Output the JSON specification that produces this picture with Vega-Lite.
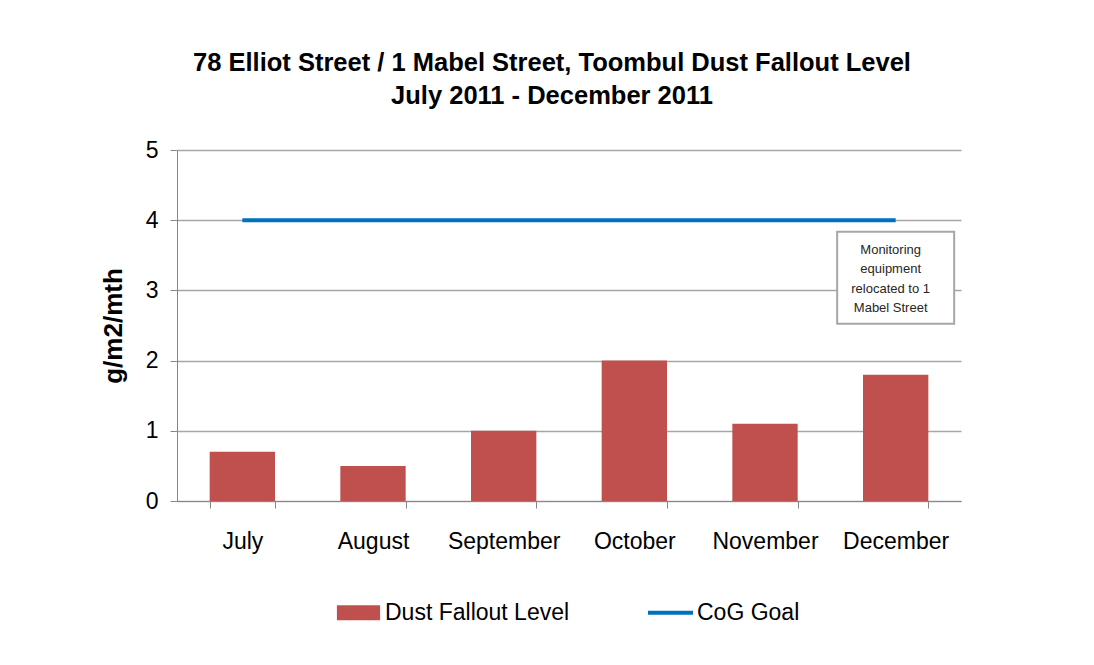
{
  "$schema": "https://vega.github.io/schema/vega-lite/v6.json",
  "width": 784,
  "height": 351,
  "autosize": "none",
  "padding": {"left": 177, "top": 150, "right": 133, "bottom": 164},
  "background": "white",
  "config": {
    "view": {"stroke": null},
    "font": "Liberation Sans",
    "axis": {"labelFont": "Liberation Sans", "titleFont": "Liberation Sans"}
  },
  "title": {
    "text": ["78 Elliot Street / 1 Mabel Street, Toombul Dust Fallout Level", "July 2011 - December 2011"],
    "font": "Liberation Sans",
    "fontSize": 25.5,
    "fontWeight": "bold",
    "color": "#000000",
    "lineHeight": 33,
    "anchor": "middle",
    "dx": -17,
    "offset": 30
  },
  "datasets": {
    "dust": [
      {"month": "July", "level": 0.7, "goal": 4},
      {"month": "August", "level": 0.5, "goal": 4},
      {"month": "September", "level": 1.0, "goal": 4},
      {"month": "October", "level": 2.0, "goal": 4},
      {"month": "November", "level": 1.1, "goal": 4},
      {"month": "December", "level": 1.8, "goal": 4}
    ],
    "note": [
      {"month": "December", "y": 3.18, "text": "Monitoring\nequipment\nrelocated to 1\nMabel Street"}
    ]
  },
  "encoding": {
    "x": {
      "field": "month",
      "type": "nominal",
      "sort": null,
      "scale": {"paddingInner": 0.5, "paddingOuter": 0.25},
      "axis": {
        "title": null,
        "labelAngle": 0,
        "labelFontSize": 23,
        "labelColor": "#000000",
        "tickBand": "extent",
        "tickSize": 7,
        "tickColor": "#878787",
        "domainColor": "#878787",
        "labelPadding": 22
      }
    }
  },
  "layer": [
    {
      "data": {"name": "dust"},
      "mark": {"type": "bar"},
      "encoding": {
        "y": {
          "field": "level",
          "type": "quantitative",
          "scale": {"domain": [0, 5]},
          "axis": {
            "title": "g/m2/mth",
            "titleFontSize": 26,
            "titleFontWeight": "bold",
            "titleColor": "#000000",
            "titlePadding": 19,
            "values": [0, 1, 2, 3, 4, 5],
            "format": "d",
            "labelFontSize": 23,
            "labelColor": "#000000",
            "labelPadding": 12,
            "tickSize": 7,
            "tickColor": "#878787",
            "domainColor": "#878787",
            "grid": true,
            "gridColor": "#A6A6A6",
            "gridWidth": 1.5
          }
        },
        "color": {
          "datum": "Dust Fallout Level",
          "type": "nominal",
          "scale": {"domain": ["Dust Fallout Level", "CoG Goal"], "range": ["#C0504D", "#0070C0"]},
          "legend": {
            "title": null,
            "orient": "none",
            "direction": "horizontal",
            "legendX": 170,
            "legendY": 451,
            "labelFontSize": 23,
            "labelColor": "#000000",
            "labelFont": "Liberation Sans",
            "labelLimit": 500,
            "symbolSize": 2025,
            "labelOffset": 15,
            "columnPadding": 70,
            "encode": {
              "symbols": {
                "update": {
                  "shape": {"signal": "datum.value === 'CoG Goal' ? 'M-1,0L1,0' : 'M-0.96,-0.33L0.96,-0.33L0.96,0.33L-0.96,0.33Z'"},
                  "fill": {"signal": "datum.value === 'CoG Goal' ? 'transparent' : '#C0504D'"},
                  "stroke": {"signal": "datum.value === 'CoG Goal' ? '#0070C0' : '#C0504D'"},
                  "strokeWidth": {"signal": "datum.value === 'CoG Goal' ? 4 : 0"},
                  "opacity": {"value": 1},
                  "fillOpacity": {"value": 1},
                  "strokeOpacity": {"value": 1}
                }
              }
            }
          }
        }
      }
    },
    {
      "data": {"name": "dust"},
      "mark": {"type": "line", "strokeWidth": 4},
      "encoding": {
        "y": {"field": "goal", "type": "quantitative"},
        "color": {"datum": "CoG Goal", "type": "nominal"}
      }
    },
    {
      "data": {"name": "note"},
      "mark": {
        "type": "point",
        "shape": "M-1,-0.786L1,-0.786L1,0.786L-1,0.786Z",
        "size": 13689,
        "filled": false,
        "fill": "#FFFFFF",
        "fillOpacity": 1,
        "stroke": "#A6A6A6",
        "strokeWidth": 2,
        "opacity": 1
      },
      "encoding": {
        "y": {"field": "y", "type": "quantitative"}
      }
    },
    {
      "data": {"name": "note"},
      "mark": {
        "type": "text",
        "lineBreak": "\n",
        "font": "Liberation Sans",
        "fontSize": 13,
        "lineHeight": 19.5,
        "color": "#262626",
        "align": "center",
        "baseline": "middle",
        "dx": -5,
        "dy": -28
      },
      "encoding": {
        "y": {"field": "y", "type": "quantitative"},
        "text": {"field": "text", "type": "nominal"}
      }
    }
  ]
}
